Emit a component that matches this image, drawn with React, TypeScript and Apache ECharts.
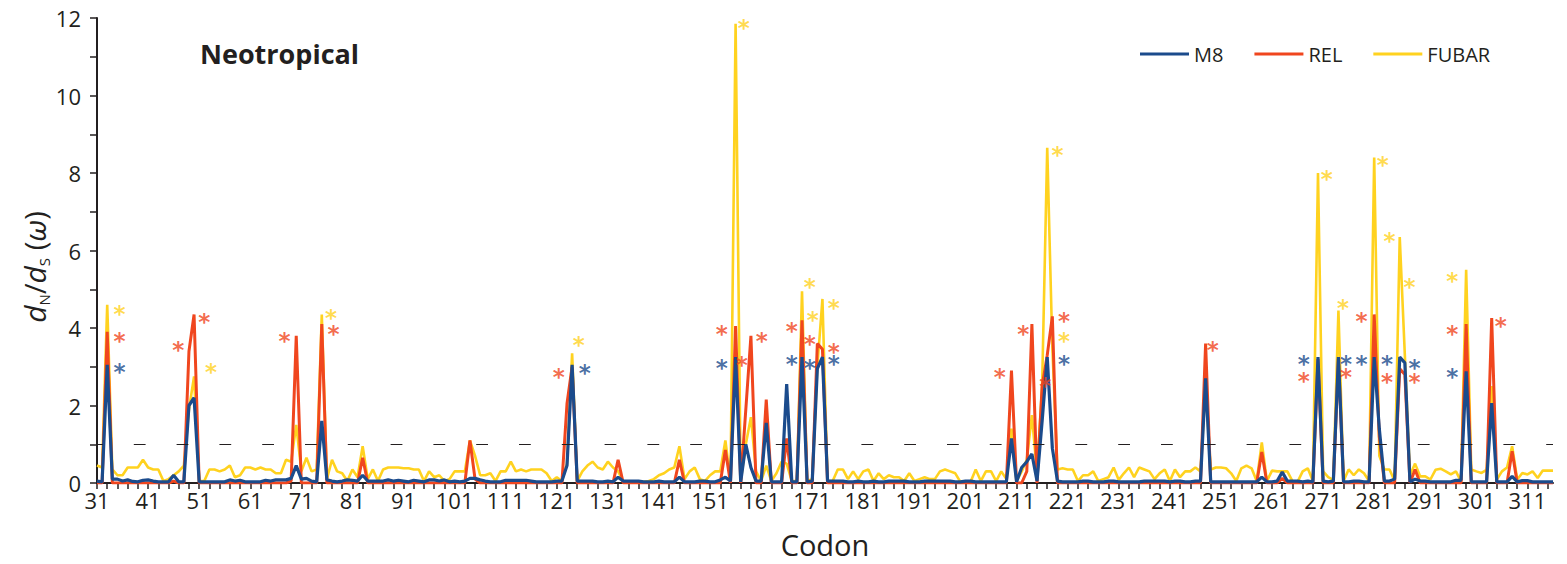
import React, { useEffect, useRef } from "react";
import * as echarts from "echarts";

// ---------- data ----------
const FIRST_CODON = 31;
const LAST_CODON = 316;

// x tick labels
const CODON_LABELS = [31, 41, 51, 61, 71, 81, 91, 101, 111, 121, 131, 141, 151, 161, 171, 181, 191, 201, 211, 221, 231, 241, 251, 261, 271, 281, 291, 301, 311];
const Y_LABELS = [0, 2, 4, 6, 8, 10, 12];
const THRESHOLD = 1;

// dN/dS per codon, codons 31..316
const M8 = [
  0.05, 0.03, 3.05, 0.1, 0.1, 0.05, 0.08, 0.04, 0.03, 0.07, // 31-40
  0.08, 0.05, 0.03, 0.03, 0.03, 0.2, 0.03, 0.03, 2.0, 2.2, // 41-50
  0.03, 0.03, 0.03, 0.03, 0.03, 0.03, 0.08, 0.05, 0.07, 0.03, // 51-60
  0.03, 0.03, 0.03, 0.07, 0.05, 0.08, 0.08, 0.08, 0.12, 0.45, // 61-70
  0.1, 0.12, 0.05, 0.03, 1.6, 0.08, 0.05, 0.03, 0.05, 0.08, // 71-80
  0.07, 0.05, 0.2, 0.05, 0.05, 0.05, 0.05, 0.08, 0.05, 0.07, // 81-90
  0.05, 0.03, 0.07, 0.05, 0.03, 0.08, 0.08, 0.05, 0.08, 0.03, // 91-100
  0.05, 0.03, 0.05, 0.12, 0.12, 0.08, 0.05, 0.03, 0.03, 0.03, // 101-110
  0.07, 0.07, 0.07, 0.07, 0.07, 0.05, 0.03, 0.03, 0.03, 0.03, // 111-120
  0.05, 0.05, 0.45, 3.05, 0.05, 0.05, 0.05, 0.05, 0.03, 0.03, // 121-130
  0.05, 0.03, 0.15, 0.05, 0.05, 0.05, 0.05, 0.03, 0.03, 0.03, // 131-140
  0.05, 0.03, 0.03, 0.03, 0.15, 0.03, 0.03, 0.03, 0.05, 0.05, // 141-150
  0.03, 0.03, 0.08, 0.15, 0.05, 3.25, 0.03, 1.0, 0.4, 0.05, // 151-160
  0.05, 1.55, 0.03, 0.03, 0.03, 2.55, 0.03, 0.03, 3.25, 0.03, // 161-170
  0.05, 2.95, 3.25, 0.05, 0.05, 0.05, 0.05, 0.03, 0.03, 0.05, // 171-180
  0.03, 0.03, 0.05, 0.03, 0.03, 0.05, 0.05, 0.05, 0.05, 0.03, // 181-190
  0.03, 0.03, 0.05, 0.05, 0.05, 0.05, 0.05, 0.05, 0.03, 0.03, // 191-200
  0.05, 0.05, 0.03, 0.03, 0.03, 0.03, 0.03, 0.03, 0.03, 1.15, // 201-210
  0.03, 0.4, 0.55, 0.75, 0.05, 1.6, 3.25, 0.9, 0.05, 0.03, // 211-220
  0.03, 0.03, 0.03, 0.05, 0.05, 0.03, 0.03, 0.03, 0.05, 0.05, // 221-230
  0.03, 0.03, 0.03, 0.03, 0.03, 0.05, 0.05, 0.05, 0.05, 0.05, // 231-240
  0.03, 0.05, 0.05, 0.03, 0.03, 0.05, 0.05, 2.7, 0.03, 0.03, // 241-250
  0.03, 0.03, 0.03, 0.03, 0.03, 0.03, 0.03, 0.03, 0.15, 0.03, // 251-260
  0.03, 0.05, 0.28, 0.05, 0.05, 0.05, 0.03, 0.05, 0.03, 3.25, // 261-270
  0.05, 0.03, 0.05, 3.25, 0.03, 0.03, 0.05, 0.05, 0.03, 0.03, // 271-280
  3.25, 1.4, 0.05, 0.05, 0.1, 3.25, 3.1, 0.03, 0.1, 0.05, // 281-290
  0.05, 0.03, 0.03, 0.03, 0.03, 0.03, 0.07, 0.07, 2.88, 0.03, // 291-300
  0.03, 0.03, 0.03, 2.06, 0.03, 0.03, 0.03, 0.17, 0.03, 0.06, // 301-310
  0.06, 0.03, 0.03, 0.03, 0.03, 0.03, // 311-316
];

const REL = [
  0, 0, 3.9, 0, 0, 0, 0, 0, 0, 0, // 31-40
  0, 0, 0, 0, 0, 0.05, 0, 0, 3.4, 4.35, // 41-50
  0, 0, 0, 0, 0, 0, 0, 0, 0, 0, // 51-60
  0, 0, 0, 0, 0, 0, 0, 0, 0.05, 3.8, // 61-70
  0, 0, 0, 0, 4.1, 0, 0, 0, 0, 0, // 71-80
  0, 0, 0.65, 0, 0, 0, 0, 0, 0, 0, // 81-90
  0, 0, 0, 0, 0, 0, 0, 0, 0, 0, // 91-100
  0, 0, 0, 1.1, 0.1, 0, 0, 0, 0, 0, // 101-110
  0, 0, 0, 0, 0, 0, 0, 0, 0, 0, // 111-120
  0, 0, 2.05, 3.0, 0, 0, 0, 0, 0, 0, // 121-130
  0, 0, 0.6, 0, 0, 0, 0, 0, 0, 0, // 131-140
  0, 0, 0, 0, 0.6, 0, 0, 0, 0, 0, // 141-150
  0, 0, 0, 0.85, 0, 4.05, 0, 1.9, 3.8, 0, // 151-160
  0, 2.15, 0, 0, 0, 1.15, 0, 0, 4.2, 0, // 161-170
  0, 3.6, 3.45, 0, 0, 0, 0, 0, 0, 0, // 171-180
  0, 0, 0, 0, 0, 0, 0, 0, 0, 0, // 181-190
  0, 0, 0, 0, 0, 0, 0, 0, 0, 0, // 191-200
  0, 0, 0, 0, 0, 0, 0, 0, 0, 2.9, // 201-210
  0, 0, 0.3, 4.1, 0, 2.5, 3.3, 4.3, 0, 0, // 211-220
  0, 0, 0, 0, 0, 0, 0, 0, 0, 0, // 221-230
  0, 0, 0, 0, 0, 0, 0, 0, 0, 0, // 231-240
  0, 0, 0, 0, 0, 0, 0, 3.6, 0, 0, // 241-250
  0, 0, 0, 0, 0, 0, 0, 0, 0.8, 0, // 251-260
  0, 0, 0.12, 0, 0, 0, 0, 0, 0, 3.2, // 261-270
  0, 0, 0, 3.2, 0, 0, 0, 0, 0, 0, // 271-280
  4.35, 1.2, 0, 0, 0, 2.95, 2.8, 0, 0.35, 0, // 281-290
  0, 0, 0, 0, 0, 0, 0, 0, 4.1, 0, // 291-300
  0, 0, 0, 4.26, 0, 0, 0, 0.82, 0, 0, // 301-310
  0, 0, 0, 0, 0, 0, // 311-316
];

const FUBAR = [
  0.45, 0.4, 4.6, 0.35, 0.2, 0.2, 0.4, 0.4, 0.4, 0.6, // 31-40
  0.4, 0.35, 0.35, 0.05, 0.1, 0.2, 0.3, 0.45, 1.9, 2.75, // 41-50
  0.05, 0.05, 0.35, 0.35, 0.3, 0.35, 0.45, 0.15, 0.2, 0.4, // 51-60
  0.4, 0.35, 0.4, 0.35, 0.35, 0.25, 0.25, 0.6, 0.55, 1.5, // 61-70
  0.3, 0.65, 0.3, 0.35, 4.35, 0.1, 0.6, 0.3, 0.25, 0.05, // 71-80
  0.35, 0.15, 0.95, 0.1, 0.35, 0.05, 0.35, 0.4, 0.4, 0.4, // 81-90
  0.38, 0.38, 0.35, 0.35, 0.05, 0.3, 0.15, 0.2, 0.05, 0.1, // 91-100
  0.3, 0.3, 0.3, 1.1, 0.7, 0.2, 0.2, 0.25, 0.05, 0.3, // 101-110
  0.3, 0.55, 0.3, 0.35, 0.3, 0.35, 0.35, 0.35, 0.25, 0.05, // 111-120
  0.15, 0.05, 0.5, 3.35, 0.05, 0.3, 0.45, 0.55, 0.4, 0.35, // 121-130
  0.55, 0.4, 0.3, 0.05, 0.03, 0.03, 0.03, 0.03, 0.05, 0.1, // 131-140
  0.2, 0.25, 0.35, 0.4, 0.95, 0.1, 0.3, 0.4, 0.1, 0.05, // 141-150
  0.2, 0.3, 0.3, 1.1, 0.05, 11.85, 0.05, 1.0, 1.7, 0.3, // 151-160
  0.05, 0.45, 0.05, 0.25, 0.55, 0.5, 0.05, 0.05, 4.95, 0.05, // 161-170
  0.1, 3.0, 4.75, 0.05, 0.05, 0.35, 0.35, 0.1, 0.3, 0.1, // 171-180
  0.3, 0.35, 0.05, 0.25, 0.1, 0.2, 0.15, 0.15, 0.05, 0.25, // 181-190
  0.05, 0.1, 0.15, 0.1, 0.1, 0.3, 0.35, 0.3, 0.25, 0.03, // 191-200
  0.03, 0.03, 0.35, 0.05, 0.3, 0.3, 0.05, 0.3, 0.1, 1.4, // 201-210
  0.05, 0.3, 0.6, 1.75, 0.25, 2.5, 8.65, 3.5, 0.35, 0.38, // 211-220
  0.35, 0.35, 0.05, 0.2, 0.2, 0.3, 0.05, 0.1, 0.15, 0.4, // 221-230
  0.08, 0.25, 0.4, 0.15, 0.4, 0.35, 0.3, 0.1, 0.25, 0.35, // 231-240
  0.05, 0.35, 0.15, 0.3, 0.3, 0.4, 0.3, 2.5, 0.35, 0.4, // 241-250
  0.4, 0.38, 0.25, 0.05, 0.38, 0.45, 0.38, 0.05, 1.05, 0.05, // 251-260
  0.32, 0.3, 0.3, 0.3, 0.05, 0.03, 0.3, 0.38, 0.05, 8.0, // 261-270
  0.3, 0.15, 0.08, 4.45, 0.05, 0.35, 0.2, 0.35, 0.25, 0.05, // 271-280
  8.4, 0.7, 0.35, 0.35, 0.05, 6.35, 3.3, 0.2, 0.5, 0.17, // 281-290
  0.17, 0.09, 0.34, 0.37, 0.3, 0.22, 0.3, 0.04, 5.5, 0.35, // 291-300
  0.3, 0.26, 0.34, 2.5, 0.09, 0.3, 0.4, 0.95, 0.09, 0.26, // 301-310
  0.22, 0.3, 0.13, 0.32, 0.32, 0.32, // 311-316
];

// significance asterisks: [codon position, dN/dS level]
const STARS_M8 = [
  [35.4, 2.97], [126.5, 2.96], [153.3, 3.09], [167, 3.19], [170.5, 3.09], [175.2, 3.19],
  [220.3, 3.19], [267.2, 3.19], [275.5, 3.19], [278.5, 3.19], [283.5, 3.19], [288.9, 3.09], [296.3, 2.86],
];
const STARS_REL = [
  [35.4, 3.77], [46.9, 3.56], [52, 4.28], [67.7, 3.79], [77.3, 3.97], [121.4, 2.84], [153.3, 3.97],
  [157.2, 3.17], [161.1, 3.79], [167, 4.05], [170.5, 3.71], [175.2, 3.49], [207.7, 2.85], [212.3, 3.97],
  [216.6, 2.61], [220.3, 4.29], [249.4, 3.56], [267.2, 2.74], [275.5, 2.85], [278.5, 4.29], [283.5, 2.73],
  [288.9, 2.73], [296.3, 3.97], [305.8, 4.17],
];
const STARS_FUBAR = [
  [35.4, 4.49], [53.3, 2.97], [76.8, 4.38], [125.3, 3.67], [157.6, 11.85], [170.5, 5.17], [171.1, 4.31],
  [175.2, 4.64], [219, 8.58], [220.3, 3.79], [271.7, 7.95], [274.9, 4.64], [282.7, 8.32], [284, 6.37],
  [287.9, 5.17], [296.3, 5.32],
];

// ---------- styling ----------
const FONT = "'Open Sans', 'Noto Sans', sans-serif";
const INK = "#231f20";
const C_M8 = "#1b4b8c";
const C_REL = "#f0461e";
const C_FUBAR = "#ffd21f";

const codons: number[] = [];
for (let c = FIRST_CODON; c <= LAST_CODON; c++) codons.push(c);
const xTicks: number[] = [];
for (let c = FIRST_CODON; c <= LAST_CODON; c += 2) xTicks.push(c);

const toPairs = (vals: number[]) => codons.map((c, i) => [c, vals[i]]);

const starSeries = (name: string, data: number[][], color: string) => ({
  type: "scatter",
  name,
  data,
  symbolSize: 1,
  itemStyle: { color: "transparent" },
  silent: true,
  z: 6,
  label: {
    show: true,
    formatter: "*",
    position: "inside",
    color,
    fontSize: 23,
    fontWeight: "bold",
    lineHeight: 8,
    fontFamily: "'DejaVu Sans', sans-serif",
    offset: [0, 4.5],
  },
});

export default function App() {
  const ref = useRef<HTMLDivElement>(null);
  useEffect(() => {
    const chart = echarts.init(ref.current!, null, { renderer: "svg" });
    const option = {
      animation: false,
      backgroundColor: "#ffffff",
      textStyle: { fontFamily: FONT, color: INK },
      title: {
        text: "Neotropical",
        left: 195,
        top: 35,
        textStyle: { fontFamily: FONT, fontSize: 27, fontWeight: "bold", color: INK },
      },
      legend: {
        data: ["M8", "REL", "FUBAR"],
        left: 1135,
        top: 39,
        icon: "rect",
        itemWidth: 49,
        itemHeight: 3,
        itemGap: 31,
        textStyle: { fontFamily: FONT, fontSize: 20, color: INK },
      },
      grid: { left: 97, right: 14, top: 18, bottom: 81, containLabel: false, outerBoundsMode: "none" },
      xAxis: {
        type: "value",
        min: FIRST_CODON,
        max: LAST_CODON,
        axisLine: { show: true, onZero: true, lineStyle: { color: INK, width: 2 } },
        axisTick: { show: true, length: 6, lineStyle: { color: INK, width: 1.5 }, customValues: xTicks },
        axisLabel: {
          customValues: CODON_LABELS,
          fontFamily: FONT,
          fontSize: 22,
          color: INK,
          margin: 6,
          hideOverlap: false,
        },
        splitLine: { show: false },
        name: "Codon",
        nameLocation: "middle",
        nameGap: 47,
        nameTextStyle: { fontFamily: FONT, fontSize: 29, color: INK },
      },
      yAxis: {
        type: "value",
        min: Y_LABELS[0],
        max: Y_LABELS[Y_LABELS.length - 1],
        interval: 2,
        axisLine: { show: true, lineStyle: { color: INK, width: 2 } },
        axisTick: { show: true, length: 7, lineStyle: { color: INK, width: 1.5 } },
        minorTick: { show: true, splitNumber: 2, length: 7, lineStyle: { color: INK, width: 1.5 } },
        axisLabel: { fontFamily: FONT, fontSize: 22, color: INK, margin: 16 },
        splitLine: { show: false },
        minorSplitLine: { show: false },
      },
      graphic: [
        {
          type: "text",
          x: 34,
          y: 267,
          rotation: Math.PI / 2,
          style: {
            text: "{i|d}{s|N}{n|/}{i|d}{s|S}{n| (}{i|ω}{n|)}",
            align: "center",
            verticalAlign: "middle",
            fill: INK,
            rich: {
              i: { fontFamily: FONT, fontSize: 30, fontStyle: "italic", color: INK, lineHeight: 34 },
              n: { fontFamily: FONT, fontSize: 29, color: INK, lineHeight: 34 },
              s: { fontFamily: FONT, fontSize: 15, color: INK, verticalAlign: "bottom", lineHeight: 34, padding: [8, 0, 0, 0] },
            },
          },
        },
      ],
      series: [
        {
          type: "line",
          name: "FUBAR",
          data: toPairs(FUBAR),
          symbol: "none",
          color: C_FUBAR,
          lineStyle: { color: C_FUBAR, width: 2.6 },
          z: 2,
          markLine: {
            silent: true,
            symbol: "none",
            label: { show: false },
            lineStyle: { color: INK, width: 1.2, type: [11.8, 31], dashOffset: 6.2 },
            data: [{ yAxis: THRESHOLD }],
          },
        },
        {
          type: "line",
          name: "REL",
          data: toPairs(REL),
          symbol: "none",
          color: C_REL,
          lineStyle: { color: C_REL, width: 3 },
          z: 3,
        },
        {
          type: "line",
          name: "M8",
          data: toPairs(M8),
          symbol: "none",
          color: C_M8,
          lineStyle: { color: C_M8, width: 3.2 },
          z: 4,
        },
        starSeries("M8 sig", STARS_M8, C_M8),
        starSeries("REL sig", STARS_REL, C_REL),
        starSeries("FUBAR sig", STARS_FUBAR, C_FUBAR),
      ],
    };
    chart.setOption(option as any);
    return () => chart.dispose();
  }, []);
  return (
    <div
      ref={ref}
      style={{ position: "fixed", left: 0, top: 0, width: 1567, height: 564, background: "#fff" }}
    />
  );
}
